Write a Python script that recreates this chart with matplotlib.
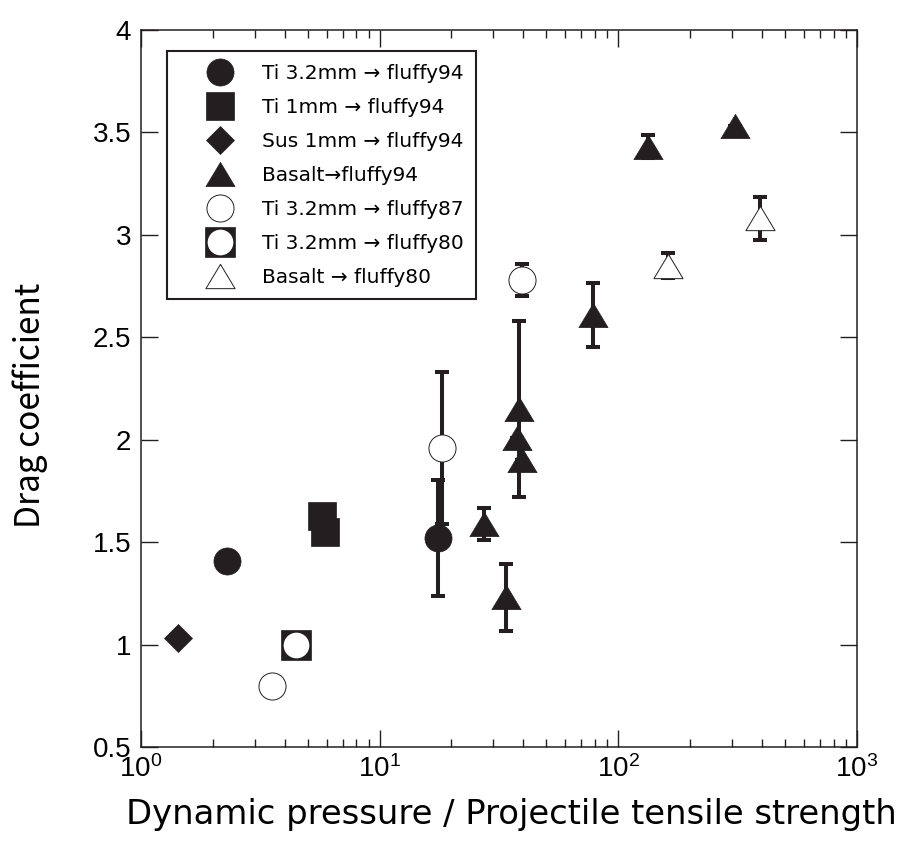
# -*- coding: utf-8 -*-
"""Drag coefficient vs dynamic pressure / projectile tensile strength."""

import matplotlib
matplotlib.use("Agg")
import matplotlib.pyplot as plt
from matplotlib.lines import Line2D
from matplotlib.path import Path
from matplotlib.legend_handler import HandlerTuple
from matplotlib.ticker import FixedLocator, FuncFormatter, LogLocator, NullFormatter

plt.rcParams["mathtext.fontset"] = "custom"
plt.rcParams["mathtext.rm"] = "Liberation Sans"

INK = "#231f20"

# ── data ──
ti32_f94_x = [2.29, 17.5]
ti32_f94_y = [1.41, 1.52]
ti32_f94_err = [0.0, 0.285]

ti1_f94_x = [5.73, 5.90]
ti1_f94_y = [1.63, 1.55]

sus1_f94_x = [1.43]
sus1_f94_y = [1.03]

bas_f94_x = [27.3, 33.8, 38.3, 37.6, 39.4, 78.3, 133.0, 308.0]
bas_f94_y = [1.59, 1.23, 2.15, 2.01, 1.90, 2.61, 3.43, 3.53]
bas_f94_err = [0.078, 0.163, 0.43, 0.0, 0.0, 0.157, 0.057, 0.0]

ti32_f87_x = [3.54, 18.2, 39.4]
ti32_f87_y = [0.80, 1.96, 2.78]
ti32_f87_err = [0.0, 0.37, 0.08]

ti32_f80_x = [4.46]
ti32_f80_y = [1.00]

bas_f80_x = [161.0, 392.0]
bas_f80_y = [2.85, 3.08]
bas_f80_err = [0.06, 0.105]

LABELS = ["Ti 3.2mm → fluffy94", "Ti 1mm → fluffy94", "Sus 1mm → fluffy94",
          "Basalt→fluffy94", "Ti 3.2mm → fluffy87", "Ti 3.2mm → fluffy80",
          "Basalt → fluffy80"]
Y_TICKS = [0.5, 1, 1.5, 2, 2.5, 3, 3.5, 4]

# slightly wide triangle, closed so the open version gets all three edges
TRI = Path([(0, 1), (-1.2, -1), (1.2, -1), (0, 1)], closed=True)

ERR_KW = dict(fmt="none", ecolor=INK, elinewidth=2.9, capsize=4.7, capthick=2.9, zorder=2)

STYLES = {
    "circ":   dict(marker="o", ms=19.5, mfc=INK, mec=INK, mew=0.5, ls="none"),
    "sq":     dict(marker="s", ms=20.5, mfc=INK, mec=INK, mew=0.5, ls="none"),
    "dia":    dict(marker="D", ms=13.8, mfc=INK, mec=INK, mew=0.5, ls="none"),
    "tri":    dict(marker=TRI, ms=21, mfc=INK, mec=INK, mew=0.5, ls="none"),
    "ocirc":  dict(marker="o", ms=19.5, mfc="white", mec=INK, mew=0.7, ls="none"),
    "bsq":    dict(marker="s", ms=21, mfc=INK, mec=INK, mew=0.5, ls="none"),
    "wcirc":  dict(marker="o", ms=18.5, mfc="white", mec="white", mew=0, ls="none"),
    "otri":   dict(marker=TRI, ms=21, mfc="white", mec=INK, mew=0.7, ls="none"),
}


def plot_all():
    fig = plt.figure(figsize=(9.02, 8.42), dpi=100)
    ax = fig.add_axes([0.1563, 0.1128, 0.7937, 0.8516])

    # error bars under the markers
    ax.errorbar(ti32_f94_x, ti32_f94_y, yerr=ti32_f94_err, **ERR_KW)
    ax.errorbar(bas_f94_x, bas_f94_y, yerr=bas_f94_err, **ERR_KW)
    ax.errorbar(ti32_f87_x, ti32_f87_y, yerr=ti32_f87_err, **ERR_KW)
    ax.errorbar(bas_f80_x, bas_f80_y, yerr=bas_f80_err, **ERR_KW)

    ax.plot(ti32_f94_x, ti32_f94_y, zorder=3, **STYLES["circ"])
    ax.plot(ti1_f94_x, ti1_f94_y, zorder=3, **STYLES["sq"])
    ax.plot(sus1_f94_x, sus1_f94_y, zorder=3, **STYLES["dia"])
    ax.plot(bas_f94_x, bas_f94_y, zorder=3, **STYLES["tri"])
    ax.plot(ti32_f87_x, ti32_f87_y, zorder=3, **STYLES["ocirc"])
    ax.plot(ti32_f80_x, ti32_f80_y, zorder=3, **STYLES["bsq"])
    ax.plot(ti32_f80_x, ti32_f80_y, zorder=4, **STYLES["wcirc"])
    ax.plot(bas_f80_x, bas_f80_y, zorder=3, **STYLES["otri"])

    ax.set_xscale("log")
    ax.set_xlim(1, 1000)
    ax.set_ylim(0.5, 4)
    ax.yaxis.set_major_locator(FixedLocator(Y_TICKS))
    ax.yaxis.set_major_formatter(FuncFormatter(lambda v, p: f"{v:g}"))
    ax.xaxis.set_major_locator(LogLocator(base=10, numticks=10))
    ax.xaxis.set_minor_locator(LogLocator(base=10, subs=range(2, 10), numticks=20))
    ax.xaxis.set_minor_formatter(NullFormatter())

    ax.tick_params(which="both", direction="in", top=True, right=True, color=INK, width=1)
    ax.tick_params(which="major", length=12, labelsize=20, pad=7)
    ax.tick_params(which="minor", length=6)
    ax.tick_params(axis="x", which="major", pad=6)
    for lab in ax.get_xticklabels() + ax.get_yticklabels():
        lab.set_fontfamily("Liberation Sans")
    for s in ax.spines.values():
        s.set_linewidth(1.1)
        s.set_color(INK)

    ax.set_xlabel("Dynamic pressure / Projectile tensile strength", fontsize=24.4,
                  family=["DejaVu Sans"], labelpad=11)
    ax.xaxis.label.set_x(0.517)
    ax.set_ylabel("Drag coefficient", fontsize=24,
                  family=["Noto Sans CJK JP", "DejaVu Sans"], labelpad=32)
    ax.yaxis.label.set_y(0.476)

    handles = [
        Line2D([], [], **STYLES["circ"]),
        Line2D([], [], **STYLES["sq"]),
        Line2D([], [], **STYLES["dia"]),
        Line2D([], [], **STYLES["tri"]),
        Line2D([], [], **STYLES["ocirc"]),
        (Line2D([], [], **STYLES["bsq"]), Line2D([], [], **STYLES["wcirc"])),
        Line2D([], [], **STYLES["otri"]),
    ]
    leg = ax.legend(handles, LABELS, loc="upper left", bbox_to_anchor=(0.037, 0.970),
                    prop={"family": "DejaVu Sans", "size": 14.5}, frameon=True, fancybox=False,
                    edgecolor=INK, borderpad=0.6, labelspacing=0.75, handlelength=4.0,
                    handletextpad=0.1, borderaxespad=0,
                    handler_map={tuple: HandlerTuple(ndivide=1)})
    leg.get_frame().set_linewidth(1.5)
    leg.get_frame().set_alpha(1)

    fig.savefig("out.png", dpi=100)
    plt.close(fig)


if __name__ == "__main__":
    plot_all()
